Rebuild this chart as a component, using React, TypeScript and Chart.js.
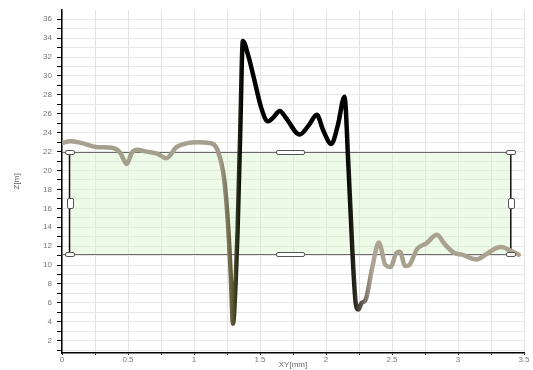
import React, { useEffect, useRef } from 'react';
import { Chart, registerables } from 'chart.js';

Chart.register(...registerables);

// ---- data ----
const xValues = [
  0, 0.06, 0.15, 0.26, 0.38, 0.44, 0.49, 0.53, 0.57, 0.64, 0.72, 0.79, 0.87, 0.95, 1.02, 1.12, 1.18,
  1.23, 1.26, 1.28, 1.295, 1.315, 1.33, 1.35, 1.37, 1.41, 1.45, 1.51, 1.56, 1.6, 1.65, 1.7, 1.8,
  1.87, 1.93, 1.98, 2.04, 2.09, 2.14, 2.17, 2.2, 2.225, 2.245, 2.27, 2.3, 2.35, 2.4, 2.45, 2.49,
  2.53, 2.56, 2.6, 2.63, 2.69, 2.76, 2.84, 2.9, 2.97, 3.03, 3.14, 3.22, 3.29, 3.33, 3.4, 3.46,
];
const zValues = [
  22.9, 23.1, 22.9, 22.5, 22.4, 21.9, 20.7, 21.9, 22.2, 22.0, 21.8, 21.3, 22.5, 22.9, 23.0, 22.9, 22.1,
  18.9, 13.8, 8.4, 3.8, 8.0, 13.6, 24.0, 33.7, 32.2, 30.0, 26.6, 25.2, 25.6, 26.3, 25.5, 23.8,
  24.8, 25.9, 24.2, 22.8, 24.8, 27.8, 20.5, 11.5, 6.0, 5.3, 6.0, 6.3, 9.7, 12.4, 10.0, 9.8,
  11.2, 11.4, 9.9, 10.0, 11.7, 12.3, 13.2, 12.2, 11.3, 11.1, 10.6, 11.2, 11.8, 11.9, 11.5, 11.1,
];
const xTicks = [0, 0.25, 0.5, 0.75, 1, 1.25, 1.5, 1.75, 2, 2.25, 2.5, 2.75, 3, 3.25, 3.5];
const xTickLabels = ['0', '', '0.5', '', '1', '', '1.5', '', '2', '', '2.5', '', '3', '', '3.5'];
const yTicks = [1, 2, 3, 4, 5, 6, 7, 8, 9, 10, 11, 12, 13, 14, 15, 16, 17, 18, 19, 20, 21, 22, 23, 24, 25, 26, 27, 28, 29, 30, 31, 32, 33, 34, 35, 36];
const yTickLabels = yTicks.map((v) => (v % 2 === 0 ? String(v) : ''));
const bandX = [0.057, 3.4];
const bandZ = [11.2, 21.95];

// line colour gradient along x (value, colour)
const gradX = [0, 0.45, 1.0, 1.2, 1.29, 1.34, 1.37, 2.15, 2.22, 2.27, 2.35, 2.5, 3.5];
const gradC = ['#aa9f92', '#a2a08a', '#a8a090', '#a09a88', '#5e5a36', '#1a2010', '#000000', '#000000', '#2a2a20', '#605850', '#aea596', '#a6a28e', '#aca290'];

const FONT = 'Liberation Sans, Arial, sans-serif';

function roundRect(ctx: CanvasRenderingContext2D, cx: number, cy: number, w: number, h: number) {
  const x = Math.round(cx - w / 2) + 0.5;
  const y = Math.round(cy - h / 2) + 0.5;
  ctx.beginPath();
  const r = Math.min(1.5, w / 2, h / 2);
  ctx.moveTo(x + r, y);
  ctx.lineTo(x + w - r, y);
  ctx.quadraticCurveTo(x + w, y, x + w, y + r);
  ctx.lineTo(x + w, y + h - r);
  ctx.quadraticCurveTo(x + w, y + h, x + w - r, y + h);
  ctx.lineTo(x + r, y + h);
  ctx.quadraticCurveTo(x, y + h, x, y + h - r);
  ctx.lineTo(x, y + r);
  ctx.quadraticCurveTo(x, y, x + r, y);
  ctx.closePath();
  ctx.fillStyle = '#ffffff';
  ctx.fill();
  ctx.strokeStyle = '#555555';
  ctx.lineWidth = 1;
  ctx.stroke();
}

const bandPlugin = {
  id: 'band',
  beforeDatasetsDraw(chart: any) {
    const { ctx, scales, chartArea } = chart;
    const xl = scales.x.getPixelForValue(bandX[0]);
    const xr = scales.x.getPixelForValue(bandX[1]);
    const yt = scales.y.getPixelForValue(bandZ[1]);
    const yb = scales.y.getPixelForValue(bandZ[0]);
    ctx.save();
    ctx.fillStyle = 'rgba(215, 245, 205, 0.45)';
    ctx.fillRect(xl, yt, xr - xl, yb - yt);
    ctx.strokeStyle = '#6a6a6a';
    ctx.lineWidth = 1;
    ctx.beginPath();
    ctx.moveTo(chartArea.left, Math.round(yt) + 0.5);
    ctx.lineTo(xr, Math.round(yt) + 0.5);
    ctx.moveTo(chartArea.left, Math.round(yb) + 0.5);
    ctx.lineTo(xr, Math.round(yb) + 0.5);
    ctx.stroke();
    ctx.strokeStyle = '#111111';
    ctx.lineWidth = 1.5;
    ctx.beginPath();
    ctx.moveTo(xl, yt);
    ctx.lineTo(xl, yb);
    ctx.moveTo(xr, yt);
    ctx.lineTo(xr, yb);
    ctx.stroke();
    ctx.restore();
  },
  afterDatasetsDraw(chart: any) {
    const { ctx, scales } = chart;
    const xl = scales.x.getPixelForValue(bandX[0]);
    const xr = scales.x.getPixelForValue(bandX[1]);
    const xm = (xl + xr) / 2;
    const yt = scales.y.getPixelForValue(bandZ[1]);
    const yb = scales.y.getPixelForValue(bandZ[0]);
    const ym = (yt + yb) / 2;
    ctx.save();
    roundRect(ctx, xl, yt, 9, 4);
    roundRect(ctx, xr, yt, 9, 4);
    roundRect(ctx, xl, yb, 9, 4);
    roundRect(ctx, xr, yb, 9, 4);
    roundRect(ctx, xm, yt, 28, 4);
    roundRect(ctx, xm, yb, 28, 4);
    roundRect(ctx, xl, ym, 6, 10);
    roundRect(ctx, xr, ym, 6, 10);
    ctx.restore();
  },
};

export default function App() {
  const ref = useRef<HTMLCanvasElement | null>(null);

  useEffect(() => {
    if (!ref.current) return;
    const points = xValues.map((x, i) => ({ x, y: zValues[i] }));
    const chart = new Chart(ref.current, {
      type: 'line',
      data: {
        datasets: [
          {
            data: points,
            borderWidth: 4.5,
            pointRadius: 0,
            cubicInterpolationMode: 'monotone',
            borderCapStyle: 'round',
            borderJoinStyle: 'round',
            borderColor: (c: any) => {
              const ch = c.chart;
              if (!ch.chartArea) return '#a09a8a';
              const x0 = ch.scales.x.getPixelForValue(0);
              const x1 = ch.scales.x.getPixelForValue(3.5);
              const g = ch.ctx.createLinearGradient(x0, 0, x1, 0);
              gradX.forEach((v, i) => g.addColorStop(v / 3.5, gradC[i]));
              return g;
            },
          } as any,
        ],
      },
      options: {
        responsive: false,
        animation: false,
        layout: { padding: { top: 8, right: 9, left: 0, bottom: 0 } },
        plugins: { legend: { display: false }, tooltip: { enabled: false } },
        scales: {
          x: {
            type: 'linear',
            min: 0,
            max: 3.5,
            afterBuildTicks: (s: any) => {
              s.ticks = xTicks.map((v) => ({ value: v }));
            },
            afterFit: (s: any) => {
              s.height = 17;
            },
            grid: { color: '#e2e2e2', tickColor: '#000', tickLength: 2, lineWidth: 1 },
            border: { color: '#000', width: 1.5 },
            ticks: {
              autoSkip: false,
              maxRotation: 0,
              padding: 0,
              color: '#777',
              font: { family: FONT, size: 8 },
              callback: (_v: any, i: number) => xTickLabels[i],
            },
            title: {
              display: true,
              text: 'XY[mm]',
              color: '#666',
              font: { family: FONT, size: 8 },
              padding: { top: 0, bottom: 0 },
            },
          },
          y: {
            type: 'linear',
            min: 0.7,
            max: 37,
            afterBuildTicks: (s: any) => {
              s.ticks = yTicks.map((v) => ({ value: v }));
            },
            afterFit: (s: any) => {
              s.width = 62;
            },
            grid: { color: '#e6e6e6', tickColor: '#000', tickLength: 5, lineWidth: 1 },
            border: { color: '#000', width: 1.5 },
            ticks: {
              autoSkip: false,
              padding: 5,
              color: '#777',
              font: { family: FONT, size: 8 },
              callback: (_v: any, i: number) => yTickLabels[i],
            },
            title: {
              display: true,
              text: 'Z[m]',
              color: '#666',
              font: { family: FONT, size: 8 },
              padding: { top: 12, bottom: 0 },
            },
          },
        },
      },
      plugins: [bandPlugin],
    });
    return () => chart.destroy();
  }, []);

  return (
    <div style={{ position: 'absolute', left: 0, top: 0, width: 533, height: 370, background: '#fff' }}>
      <canvas ref={ref} width={533} height={370} />
    </div>
  );
}
